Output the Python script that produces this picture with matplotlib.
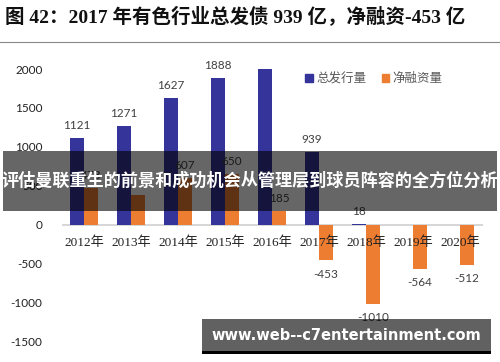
import matplotlib
matplotlib.use("Agg")
import matplotlib.pyplot as plt
from matplotlib.patches import Rectangle, Patch
import numpy as np

years = ["2012年", "2013年", "2014年", "2015年", "2016年", "2017年", "2018年", "2019年", "2020年"]
total_issue = [1121, 1271, 1627, 1888, 2004, 939, 18, 0, 0]
net_finance = [473, 380, 607, 650, 185, -453, -1010, -564, -512]
total_labels = ["1121", "1271", "1627", "1888", "", "939", "18", "", ""]
net_labels = ["473", "", "607", "650", "185", "-453", "-1010", "-564", "-512"]
yticks = [-1500, -1000, -500, 0, 500, 1000, 1500, 2000]
series_names = ["总发行量", "净融资量"]
title = "图 42：2017 年有色行业总发债 939 亿，净融资-453 亿"
banner = "评估曼联重生的前景和成功机会从管理层到球员阵容的全方位分析"
watermark = "www.web--c7entertainment.com"

BLUE = "#34349a"
ORANGE = "#ED7D31"
W, H = 500, 362
fig = plt.figure(figsize=(W / 100, H / 100), dpi=100)

def fx(px):
    return px / W

def fy(py):
    return 1 - py / H

ax = fig.add_axes([fx(62), fy(355), fx(483) - fx(62), fy(52) - fy(355)])
x = np.arange(len(years))
bw = 0.3
ax.bar(x - bw / 2, total_issue, width=bw, color=BLUE, zorder=2)
ax.bar(x + bw / 2, net_finance, width=bw, color=ORANGE, zorder=2)
ax.set_xlim(-0.47, 8.49)
ax.set_ylim(-1667, 2218)
for s in ax.spines.values():
    s.set_visible(False)
ax.axhline(0, color="#d0d0d0", lw=1.2, zorder=1)
ax.set_xticks([])
ax.set_yticks(yticks)
ax.set_yticklabels([str(v) for v in yticks], family=["Lato", "DejaVu Sans"], fontsize=8.5, color="#222222")
ax.tick_params(axis="y", length=0, pad=14)
lab_font = dict(family=["Lato", "DejaVu Sans"], fontsize=8.5, color="#404040")
for i in range(len(years)):
    if total_labels[i]:
        ax.annotate(total_labels[i], (x[i] - bw / 2, total_issue[i]), xytext=(0, 5),
                    textcoords="offset points", ha="center", va="bottom", **lab_font)
    if net_labels[i]:
        v = net_finance[i]
        if v >= 0:
            ax.annotate(net_labels[i], (x[i] + bw / 2, v), xytext=(0, 5),
                        textcoords="offset points", ha="center", va="bottom", **lab_font)
        else:
            ax.annotate(net_labels[i], (x[i] + bw / 2, v), xytext=(0, -6),
                        textcoords="offset points", ha="center", va="top", **lab_font)
for i, yl in enumerate(years):
    ax.annotate(yl, (x[i], 0), xytext=(0, -8), textcoords="offset points", ha="center", va="top",
                family=["Liberation Serif", "Noto Sans CJK SC"], fontsize=9.5, color="#222222", zorder=3)

leg = ax.legend(handles=[Patch(color=BLUE), Patch(color=ORANGE)], labels=series_names,
                loc="upper left", frameon=False,
                ncol=2, handlelength=0.6, handleheight=0.6, handletextpad=0.3, columnspacing=1.2,
                prop={"family": ["Noto Sans CJK SC"], "size": 9})
leg.set_bbox_to_anchor((fx(294), fy(61)), transform=fig.transFigure)
for t in leg.get_texts():
    t.set_color("#595959")

fig.text(fx(5), fy(17), title, ha="left", va="center", fontsize=14, fontweight="bold",
         family=["Liberation Serif", "Noto Sans CJK SC"], color="#111111")
fig.add_artist(plt.Line2D([0, 1], [fy(42), fy(42)], color="#888888", lw=0.8))

fig.add_artist(Rectangle((fx(3), fy(211)), fx(497) - fx(3), fy(151) - fy(211), transform=fig.transFigure,
                         facecolor="black", alpha=0.6, edgecolor="none", zorder=10))
fig.text(0.5, fy(181), banner, ha="center", va="center", fontsize=12.3, fontweight="bold",
         family=["Noto Sans CJK SC"], color="white", zorder=11)

fig.add_artist(Rectangle((fx(202), fy(351)), fx(491) - fx(202), fy(319) - fy(351), transform=fig.transFigure,
                         facecolor="black", alpha=0.62, edgecolor="none", zorder=10))
fig.add_artist(Rectangle((fx(202), fy(354)), fx(491) - fx(202), fy(351) - fy(354), transform=fig.transFigure,
                         facecolor="black", edgecolor="none", zorder=10))
fig.text(fx(346), fy(335), watermark, ha="center", va="center", fontsize=10.5, fontweight="bold",
         family=["DejaVu Sans"], color="white", zorder=11)

fig.savefig("out.png", dpi=100)
